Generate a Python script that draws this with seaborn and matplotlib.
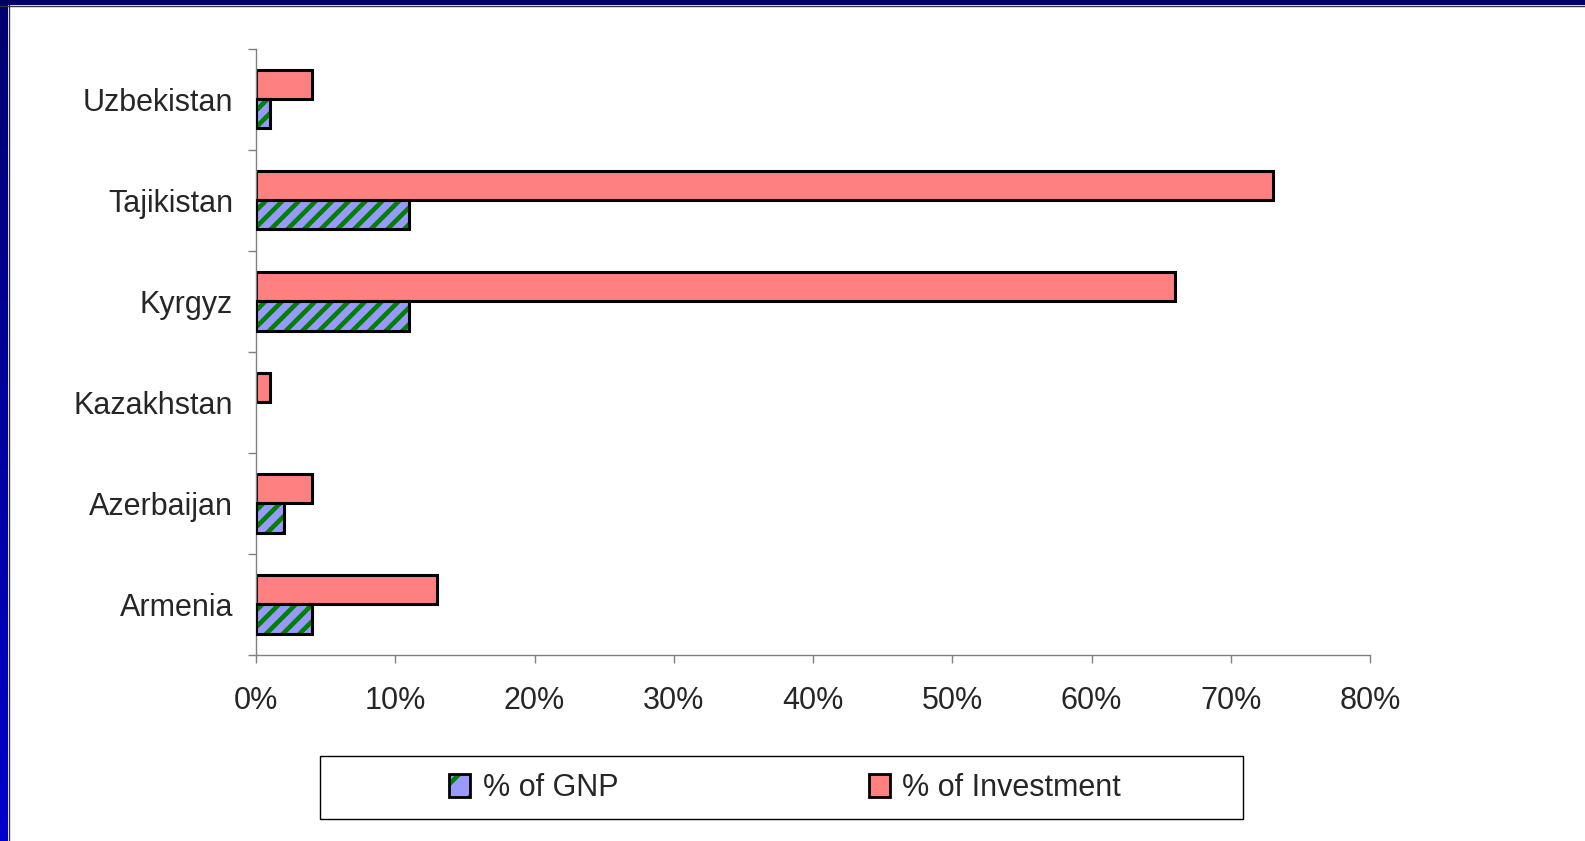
import numpy as np
import pandas as pd
import matplotlib
matplotlib.use("Agg")
import matplotlib.pyplot as plt
from matplotlib.patches import Rectangle
from matplotlib.ticker import FixedLocator, FuncFormatter
import seaborn as sns

# Data (percent)
countries = ["Uzbekistan", "Tajikistan", "Kyrgyz", "Kazakhstan", "Azerbaijan", "Armenia"]
pct_investment = [4, 73, 66, 1, 4, 13]
pct_gnp = [1, 11, 11, 0, 2, 4]
series = ["% of Investment", "% of GNP"]
xticks = [0, 10, 20, 30, 40, 50, 60, 70, 80]

df = pd.DataFrame({
    "country": countries * 2,
    "value": pct_investment + pct_gnp,
    "series": [series[0]] * len(countries) + [series[1]] * len(countries),
})

sns.set_style("white")
plt.rcParams["font.family"] = ["Liberation Sans", "DejaVu Sans"]
plt.rcParams["hatch.linewidth"] = 3.3

inv_color = "#FF8080"
gnp_color = "#9999FF"
hatch_color = "#008000"

W, H = 1585, 841
fig = plt.figure(figsize=(W / 100, H / 100), dpi=100)
ax = fig.add_axes([256 / W, 1 - 655 / H, (1370 - 256) / W, (655 - 48.5) / H])

sns.barplot(data=df, y="country", x="value", hue="series", order=countries,
            hue_order=series, palette=[inv_color, gnp_color], width=0.58,
            edgecolor="black", linewidth=2.2, saturation=1, ax=ax, legend=False)

# hatch the GNP bars: green stripes, then a black outline on top
for bar in ax.containers[1]:
    bar.set_hatch("//")
    bar.set_edgecolor(hatch_color)
    bar.set_linewidth(0)
    if bar.get_width() > 0:
        ax.add_patch(Rectangle(bar.get_xy(), bar.get_width(), bar.get_height(),
                               facecolor="none", edgecolor="black", linewidth=2.2, zorder=3))

ax.set_xlim(0, 80)
ax.set_ylim(5.5, -0.5)
ax.set_xticks(xticks)
ax.xaxis.set_major_formatter(FuncFormatter(lambda v, p: f"{v:.0f}%"))
ax.yaxis.set_minor_locator(FixedLocator(np.arange(-0.5, 6, 1)))
ax.set_xlabel("")
ax.set_ylabel("")
ax.tick_params(axis="y", which="major", length=0, pad=16.5, labelsize=22)
ax.tick_params(axis="y", which="minor", length=6, width=1, color="#808080", left=True)
ax.tick_params(axis="x", length=6, width=1, color="#808080", pad=16, labelsize=22, bottom=True)
for s in ["top", "right"]:
    ax.spines[s].set_visible(False)
for s in ["left", "bottom"]:
    ax.spines[s].set_color("#808080")
    ax.spines[s].set_linewidth(1)

# legend with its own frame
gnp_handle = (
    Rectangle((0, 0), 1, 1, facecolor=gnp_color, edgecolor=hatch_color, hatch="/", linewidth=0),
    Rectangle((0, 0), 1, 1, facecolor="none", edgecolor="black", linewidth=2),
)
inv_handle = Rectangle((0, 0), 1, 1, facecolor=inv_color, edgecolor="black", linewidth=2)
fig.legend([gnp_handle, inv_handle], ["% of GNP", "% of Investment"], loc="center",
           bbox_to_anchor=(785 / W, 1 - 788 / H), ncol=2, frameon=False,
           fontsize=22, handlelength=0.7, handleheight=0.75, handletextpad=0.4,
           columnspacing=8.2)
fig.add_artist(Rectangle((320 / W, 1 - 819 / H), (1243 - 320) / W, 63 / H,
                         transform=fig.transFigure, facecolor="none",
                         edgecolor="black", linewidth=1))

# slide frame: blue bar on the left and top
bg = fig.add_axes([0, 0, 8 / W, 1])
grad = np.linspace(0, 1, 256).reshape(-1, 1)
bg.imshow(grad, aspect="auto", cmap=matplotlib.colors.LinearSegmentedColormap.from_list(
    "frame", ["#000070", "#0000CC"]), extent=[0, 1, 0, 1], origin="upper")
bg.set_axis_off()
fig.add_artist(Rectangle((0, 1 - 5 / H), 1, 5 / H, transform=fig.transFigure,
                         facecolor="#000066", edgecolor="none"))
fig.add_artist(plt.Line2D([0, 1], [1 - 5.5 / H] * 2, transform=fig.transFigure,
                          color="#333333", linewidth=1))
fig.add_artist(plt.Line2D([8.5 / W] * 2, [0, 1 - 5 / H], transform=fig.transFigure,
                          color="#333333", linewidth=1))

fig.savefig("out.png", dpi=100, facecolor="white")
